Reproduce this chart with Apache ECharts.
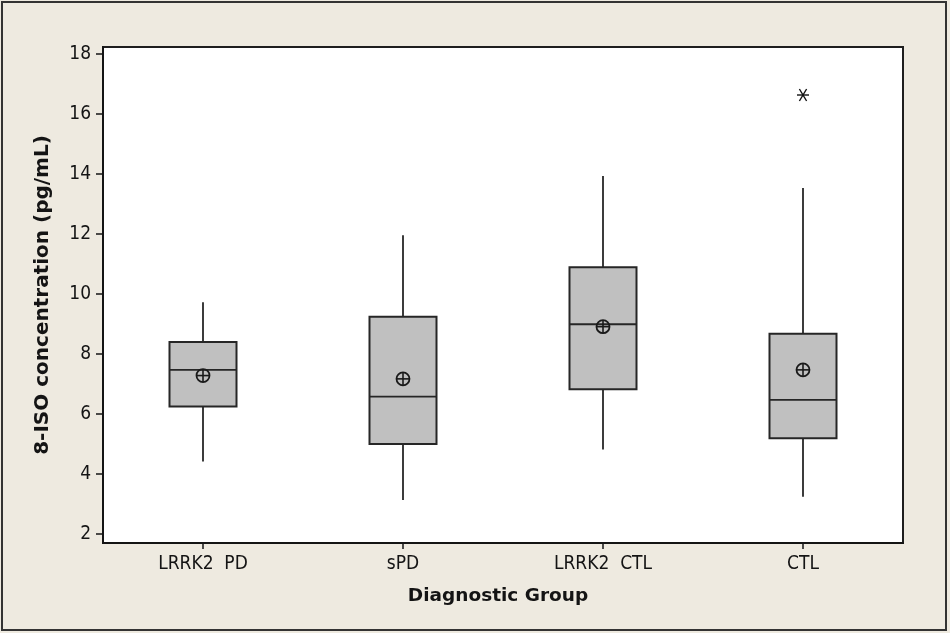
<!DOCTYPE html>
<html>
<head>
<meta charset="utf-8">
<script src="https://cdn.jsdelivr.net/npm/echarts@6/dist/echarts.min.js"></script>
<style>
  html, body { margin: 0; padding: 0; background: #eeeae0; }
  #chart { width: 950px; height: 633px; }
</style>
</head>
<body>
<div id="chart"></div>
<script>
// Data
const groups = ['LRRK2  PD', 'sPD', 'LRRK2  CTL', 'CTL'];
const whiskerLow = [4.42, 3.13, 4.82, 3.24];
const q1 = [6.25, 5.0, 6.82, 5.19];
const median = [7.47, 6.58, 8.99, 6.47];
const q3 = [8.4, 9.24, 10.89, 8.67];
const whiskerHigh = [9.72, 11.96, 13.93, 13.53];
const means = [7.28, 7.17, 8.91, 7.47];
const outliers = [[3, 16.63]];
const yTicks = [2, 4, 6, 8, 10, 12, 14, 16, 18];

const condFont = "'DejaVu Sans Condensed', 'DejaVu Sans', sans-serif";
const boldFont = "'DejaVu Sans', sans-serif";
const ink = '#141414';

var chartDom = document.getElementById('chart');
var myChart = echarts.init(chartDom);

var boxData = groups.map(function (g, i) {
  return [i, whiskerLow[i], q1[i], median[i], q3[i], whiskerHigh[i]];
});
var meanData = means.map(function (m, i) { return [i, m]; });

// box, median and whiskers without end caps (Minitab style)
function renderBox(params, api) {
  var x = api.value(0);
  var lo = api.coord([x, api.value(1)]);
  var b1 = api.coord([x, api.value(2)]);
  var md = api.coord([x, api.value(3)]);
  var b3 = api.coord([x, api.value(4)]);
  var hi = api.coord([x, api.value(5)]);
  var halfW = api.size([1, 0])[0] * 0.335 / 2;
  var lineStyle = { stroke: '#262626', lineWidth: 1.8 };
  return {
    type: 'group',
    children: [
      { type: 'line', shape: { x1: hi[0], y1: hi[1], x2: b3[0], y2: b3[1] }, style: lineStyle },
      { type: 'line', shape: { x1: b1[0], y1: b1[1], x2: lo[0], y2: lo[1] }, style: lineStyle },
      {
        type: 'rect',
        shape: { x: b3[0] - halfW, y: b3[1], width: halfW * 2, height: b1[1] - b3[1] },
        style: { fill: '#c0c0c0', stroke: '#262626', lineWidth: 2 }
      },
      { type: 'line', shape: { x1: md[0] - halfW, y1: md[1], x2: md[0] + halfW, y2: md[1] }, style: lineStyle }
    ]
  };
}

// mean: circle with cross
function renderMean(params, api) {
  var p = api.coord([api.value(0), api.value(1)]);
  var r = 6.5;
  var st = { stroke: '#1a1a1a', lineWidth: 1.6 };
  return {
    type: 'group',
    children: [
      { type: 'circle', shape: { cx: p[0], cy: p[1], r: r }, style: { stroke: '#1a1a1a', lineWidth: 1.8, fill: 'transparent' } },
      { type: 'line', shape: { x1: p[0] - r, y1: p[1], x2: p[0] + r, y2: p[1] }, style: st },
      { type: 'line', shape: { x1: p[0], y1: p[1] - r, x2: p[0], y2: p[1] + r }, style: st }
    ]
  };
}

// outlier asterisk
function renderStar(params, api) {
  var p = api.coord([api.value(0), api.value(1)]);
  var s = 6;
  var st = { stroke: '#111', lineWidth: 1.4 };
  return {
    type: 'group',
    children: [
      { type: 'line', shape: { x1: p[0] - s, y1: p[1], x2: p[0] + s, y2: p[1] }, style: st },
      { type: 'line', shape: { x1: p[0] - s * 0.6, y1: p[1] - s, x2: p[0] + s * 0.6, y2: p[1] + s }, style: st },
      { type: 'line', shape: { x1: p[0] + s * 0.6, y1: p[1] - s, x2: p[0] - s * 0.6, y2: p[1] + s }, style: st }
    ]
  };
}

var option = {
  backgroundColor: '#eeeae0',
  animation: false,
  graphic: [
    {
      type: 'rect',
      shape: { x: 2, y: 2, width: 944, height: 628 },
      style: { fill: 'transparent', stroke: '#333', lineWidth: 2 },
      silent: true
    }
  ],
  grid: {
    left: 103, top: 47, width: 800, height: 496,
    show: true, backgroundColor: '#ffffff', borderColor: '#1e1e1e', borderWidth: 2
  },
  xAxis: {
    type: 'category',
    data: groups,
    boundaryGap: true,
    name: 'Diagnostic Group',
    nameLocation: 'middle',
    nameGap: 44,
    nameTextStyle: { fontFamily: boldFont, fontWeight: 'bold', fontSize: 18.5, color: ink, padding: [0, 10, 0, 0] },
    axisLine: { show: true, lineStyle: { color: ink, width: 2 } },
    axisTick: { show: true, alignWithLabel: true, length: 6, lineStyle: { color: ink, width: 1.5 } },
    axisLabel: { fontFamily: condFont, fontSize: 19, color: ink, margin: 12 },
    splitLine: { show: false }
  },
  yAxis: {
    type: 'value',
    min: 1.7,
    max: 18.23,
    name: '8-ISO concentration (pg/mL)',
    nameLocation: 'middle',
    nameGap: 50,
    nameRotate: 90,
    nameTextStyle: { fontFamily: boldFont, fontWeight: 'bold', fontSize: 20, color: ink },
    axisLine: { show: true, lineStyle: { color: ink, width: 2 } },
    axisTick: { show: true, length: 7, customValues: yTicks, lineStyle: { color: ink, width: 1.5 } },
    axisLabel: { fontFamily: condFont, fontSize: 19, color: ink, margin: 12, customValues: yTicks },
    splitLine: { show: false }
  },
  series: [
    { type: 'custom', name: 'box', renderItem: renderBox, data: boxData, encode: { x: 0, y: [1, 2, 3, 4, 5] }, z: 2 },
    { type: 'custom', name: 'mean', renderItem: renderMean, data: meanData, encode: { x: 0, y: 1 }, z: 3 },
    { type: 'custom', name: 'outlier', renderItem: renderStar, data: outliers, encode: { x: 0, y: 1 }, z: 3 }
  ]
};

option && myChart.setOption(option);
</script>
</body>
</html>
